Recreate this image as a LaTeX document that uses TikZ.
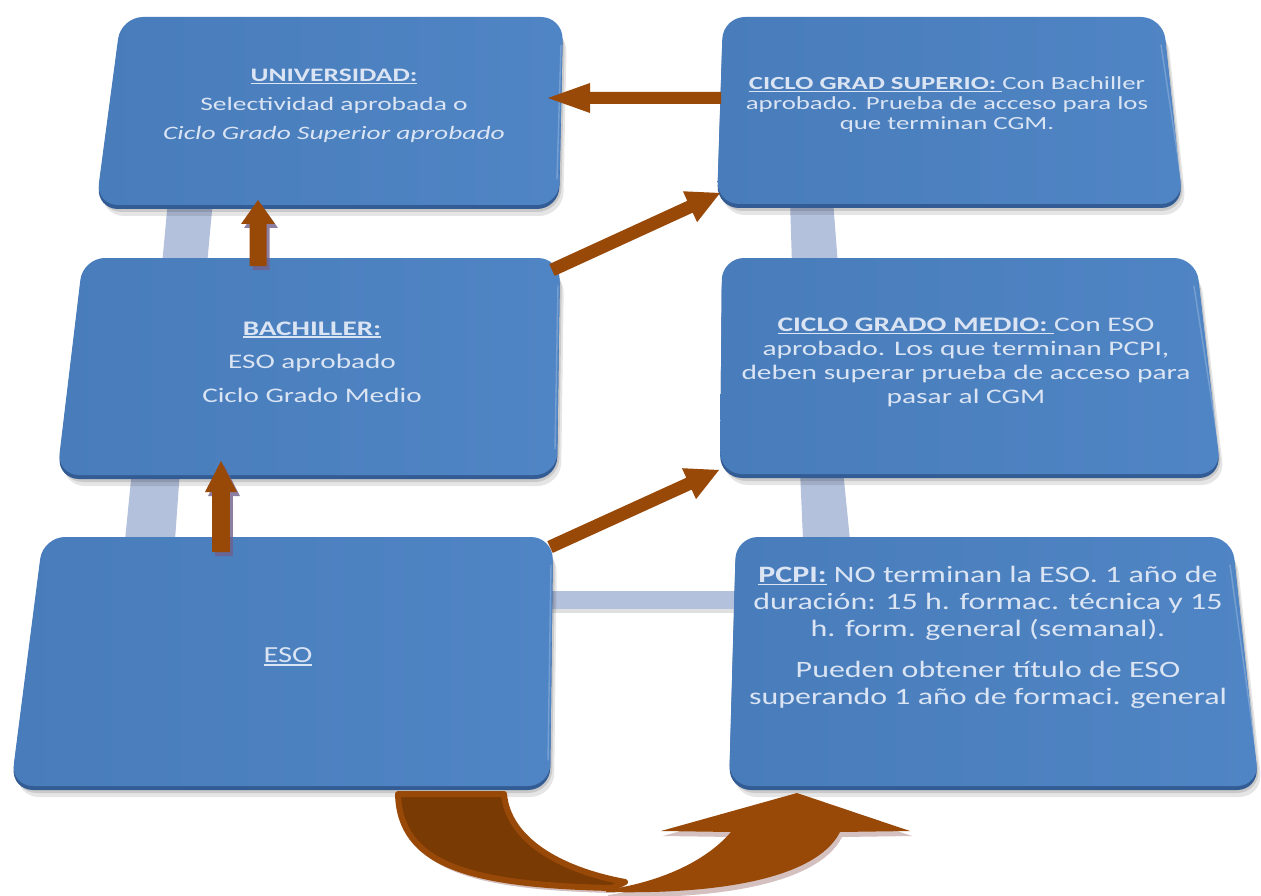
\documentclass[tikz,border=0pt]{standalone}
\usepackage{fontspec}
\setmainfont{Carlito}
\usepackage{graphicx}
\usetikzlibrary{calc}
\definecolor{boxA}{RGB}{72,124,186}
\definecolor{boxB}{RGB}{80,133,197}
\definecolor{boxSide}{RGB}{52,92,148}
\definecolor{txt}{RGB}{218,228,243}
\definecolor{bar}{RGB}{180,193,220}
\definecolor{arr}{RGB}{152,72,7}
\definecolor{arrdark}{RGB}{122,58,4}
\definecolor{arrshadow}{RGB}{112,96,140}
\definecolor{ushadow}{RGB}{185,150,150}
\newcommand{\uln}[1]{\setbox0=\hbox{#1}\rlap{\rule[-0.13em]{\wd0}{0.075em}}\box0\relax}
\newcommand{\panelpath}[4]{#1 -- #2 -- #3 -- #4 -- cycle}
\newcommand{\panel}[5]{%
  \begin{scope}[shift={(4,11)}]\fill[black,opacity=.10,rounded corners=24pt] \panelpath{#2}{#3}{#4}{#5};\end{scope}
  \begin{scope}[shift={(2,7)}]\fill[black,opacity=.12,rounded corners=24pt] \panelpath{#2}{#3}{#4}{#5};\end{scope}
  \begin{scope}[shift={(0,4)}]\fill[boxSide,rounded corners=22pt] \panelpath{#2}{#3}{#4}{#5};\end{scope}
  \shade[left color=boxA,right color=boxB,rounded corners=22pt] \panelpath{#2}{#3}{#4}{#5};
  \draw[white,opacity=.22,line width=1.4pt,line cap=round] ($#3+(-2,28)$) -- ($#4+(-2,-26)$);
  \path #2 coordinate (#1-tl) #3 coordinate (#1-tr) #4 coordinate (#1-br) #5 coordinate (#1-bl);
}
% tail, apex, half shaft, head length, half head width, style
\newcommand{\fatarrow}[6]{%
  \path ($(#2)!#4!(#1)$) coordinate (nk);
  \fill[#6] ($(#1)!#3!90:(#2)$) -- ($(nk)!#3!90:(#2)$) -- ($(nk)!#5!90:(#2)$) -- (#2)
    -- ($(nk)!#5!-90:(#2)$) -- ($(nk)!#3!-90:(#2)$) -- ($(#1)!#3!-90:(#2)$) -- cycle;
}
\tikzset{lbl/.style={text=txt,inner sep=0pt,align=center}}
\begin{document}
\begin{tikzpicture}[x=1pt,y=-1pt]
\useasboundingbox[fill=white] (0,0) rectangle (1261,896);
% connector bars
\fill[bar] (168,200) -- (213,200) -- (207,265) -- (162,265) -- cycle;
\fill[bar] (132,470) -- (180,470) -- (175,540) -- (125,540) -- cycle;
\fill[bar] (790,200) -- (833,200) -- (838,265) -- (792,265) -- cycle;
\fill[bar] (800,470) -- (843,470) -- (850,540) -- (803,540) -- cycle;
\fill[bar] (545,591) -- (740,591) -- (740,609) -- (545,609) -- cycle;
\fill[black,opacity=.12] (545,609) -- (740,609) -- (740,613) -- (545,613) -- cycle;
% panels
\panel{univ}{(121,17)}{(563,17)}{(559,205)}{(96,205)}
\panel{cgs}{(723,17)}{(1163,17)}{(1183,204)}{(717,204)}
\panel{bach}{(83,258)}{(560,258)}{(557,475)}{(57,475)}
\panel{cgm}{(722,258)}{(1196,258)}{(1221,474)}{(720,474)}
\panel{eso}{(43,537)}{(553,537)}{(550,786)}{(11,786)}
\panel{pcpi}{(736,537)}{(1232,537)}{(1259,786)}{(729,786)}
% arrow coordinates
\coordinate (a1t) at (721,98);  \coordinate (a1h) at (548,98);
\coordinate (a2t) at (258,266); \coordinate (a2h) at (258,200);
\coordinate (a3t) at (221,552); \coordinate (a3h) at (221,461);
\coordinate (a4t) at (552,270); \coordinate (a4h) at (720,193);
\coordinate (a5t) at (550,547); \coordinate (a5h) at (719,470);
\begin{scope}[transform canvas={shift={(3pt,-4pt)}}]
\fatarrow{a2t}{a2h}{8.5pt}{24pt}{17pt}{arrshadow,opacity=.8}
\fatarrow{a3t}{a3h}{8.8pt}{31pt}{16pt}{arrshadow,opacity=.8}
\end{scope}
\fatarrow{a1t}{a1h}{6pt}{42pt}{15pt}{arr}
\fatarrow{a2t}{a2h}{8.5pt}{24pt}{17pt}{arr}
\fatarrow{a3t}{a3h}{8.8pt}{31pt}{16pt}{arr}
\fatarrow{a4t}{a4h}{6.5pt}{33pt}{17pt}{arr}
\fatarrow{a5t}{a5h}{6.5pt}{33pt}{17pt}{arr}
% U-turn arrow
\begin{scope}[shift={(2,5)}]
\fill[ushadow,opacity=.6] (398,794) .. controls (400,865) and (470,885) .. (612,888) -- (625,882) .. controls (560,870) and (508,840) .. (504,794) -- cycle;
\fill[ushadow,opacity=.6] (606,890) .. controls (660,882) and (705,862) .. (731,832) -- (661,831) -- (797,793) -- (910,831) -- (840,832) .. controls (820,872) and (740,895) .. (606,892) -- cycle;
\end{scope}
\filldraw[fill=arrdark,draw=arr,line width=6pt,line join=round] (398,794) .. controls (400,865) and (470,885) .. (612,888) -- (625,882) .. controls (560,870) and (508,840) .. (504,794) -- cycle;
\fill[arr] (606,890) .. controls (660,882) and (705,862) .. (731,832) -- (661,831) -- (797,793) -- (910,831) -- (840,832) .. controls (820,872) and (740,895) .. (606,892) -- cycle;
% texts
\node[lbl] (univ-txt) at (334,105) {\fontsize{19}{29}\selectfont\scalebox{1.447}[1]{\begin{tabular}{@{}c@{}}\uln{\textbf{UNIVERSIDAD:}}\\ Selectividad aprobada o\\ \textit{Ciclo Grado Superior aprobado}\end{tabular}}};
\node[lbl] (cgs-txt) at (947,106) {\fontsize{18.5}{20}\selectfont\scalebox{1.45}[1]{\begin{tabular}{@{}c@{}}\uln{\textbf{CICLO GRAD SUPERIO:}\ }Con Bachiller\\ aprobado. Prueba de acceso para los\\ que terminan CGM.\end{tabular}}};
\node[lbl] (bach-txt) at (312,362) {\fontsize{20.7}{33.5}\selectfont\scalebox{1.41}[1]{\begin{tabular}{@{}c@{}}\uln{\textbf{BACHILLER:}}\\ ESO aprobado\\ Ciclo Grado Medio\end{tabular}}};
\node[lbl] (cgm-txt) at (966,363) {\fontsize{20.7}{24}\selectfont\scalebox{1.42}[1]{\begin{tabular}{@{}c@{}}\uln{\textbf{CICLO GRADO MEDIO:}\ }Con ESO\\ aprobado. Los que terminan PCPI,\\ deben superar prueba de acceso para\\ pasar al CGM\end{tabular}}};
\node[lbl] (eso-txt) at (288,657) {\fontsize{23}{28}\selectfont\scalebox{1.33}[1]{\begin{tabular}{@{}c@{}}\uln{ESO}\end{tabular}}};
\node[lbl] (pcpi-txt) at (988,638) {\fontsize{23.5}{27}\selectfont\scalebox{1.36}[1]{\begin{tabular}{@{}c@{}}\uln{\textbf{PCPI:}} NO terminan la ESO. 1 año de\\ duración: 15 h. formac. técnica y 15\\ h. form. general (semanal).\\[14pt] Pueden obtener título de ESO\\ superando 1 año de formaci. general\end{tabular}}};
\end{tikzpicture}
\end{document}
